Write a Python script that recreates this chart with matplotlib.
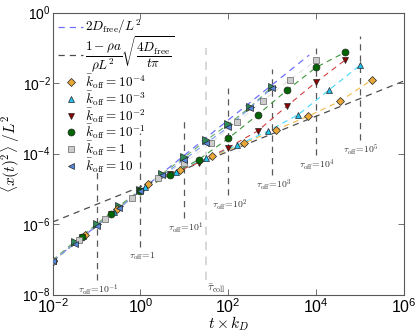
import matplotlib
matplotlib.use('Agg')
import matplotlib.pyplot as plt

plt.rcParams['font.family'] = ['Liberation Sans', 'DejaVu Sans']
plt.rcParams['mathtext.fontset'] = 'cm'

# reference lines (end points)
free_t = [1e-2, 7e3]
free_msd = [9e-8, 6.3e-2]
sqrt_t = [1e-2, 1e6]
sqrt_msd = [1.15e-6, 1.15e-2]

# simulated MSD, one pair of lists per k_off
t_k4 = [0.01, 0.0537, 0.288, 1.51, 8.13, 43.7, 234, 1230, 6610, 35500, 190500]
msd_k4 = [8.9e-8, 4.8e-7, 2.6e-6, 1.35e-5, 3.4e-5, 8.3e-5, 2.0e-4, 4.8e-4, 1.15e-3, 3.1e-3, 1.26e-2]

t_k3 = [0.01, 0.05, 0.25, 1.26, 6.3, 31.6, 158, 794, 3980, 20000, 1e5]
msd_k3 = [8.9e-8, 4.5e-7, 2.2e-6, 1.12e-5, 3.0e-5, 7.4e-5, 1.74e-4, 4.3e-4, 1.29e-3, 6.5e-3, 3.2e-2]

t_k2 = [0.01, 0.0468, 0.214, 1.0, 4.68, 21.4, 100, 468, 2140, 1e4, 46800]
msd_k2 = [8.9e-8, 4.2e-7, 1.9e-6, 8.9e-6, 2.6e-5, 5.6e-5, 1.48e-4, 4.4e-4, 2.2e-3, 1.07e-2, 4.6e-2]

t_k1 = [0.01, 0.0468, 0.214, 1.0, 4.68, 21.4, 100, 468, 2140, 1e4, 46800]
msd_k1 = [8.9e-8, 4.2e-7, 1.9e-6, 8.9e-6, 2.5e-5, 6.8e-5, 2.7e-4, 1.26e-3, 6.2e-3, 2.8e-2, 7.6e-2]

t_k0 = [0.01, 0.0398, 0.158, 0.631, 2.51, 10, 39.8, 158, 631, 2510, 1e4]
msd_k0 = [8.9e-8, 3.5e-7, 1.41e-6, 5.4e-6, 2.0e-5, 5.6e-5, 2.0e-4, 7.9e-4, 3.2e-3, 1.26e-2, 4.4e-2]

t_k10 = [0.01, 0.0316, 0.1, 0.316, 1, 3.16, 10, 31.6, 100, 316, 1000]
msd_k10 = [8.9e-8, 2.8e-7, 8.9e-7, 2.8e-6, 8.5e-6, 2.4e-5, 6.8e-5, 2.0e-4, 5.6e-4, 2.0e-3, 7.4e-3]
msd_free = [9.5e-8, 3.2e-7, 1.0e-6, 3.2e-6, 9.5e-6, 2.7e-5, 7.9e-5, 2.4e-4, 6.8e-4, 2.1e-3, 7.9e-3]

# vertical markers: tau_off = 1/k_off and the mean collision time
tau_off = [1e-1, 1, 1e1, 1e2, 1e3, 1e4, 1e5]
tau_labels = ['10^{-1}', '1', '10^1', '10^2', '10^3', '10^4', '10^5']
tau_top = [3.4e-5, 3.8e-4, 1.07e-3, 7.1e-3, 2.6e-2, 0.1, 0.22]
tau_bottom = [2.6e-8, 2.2e-7, 1.5e-6, 6.6e-6, 2.5e-5, 8.9e-5, 2.4e-4]
tau_coll = 31
tau_coll_span = [2.6e-8, 0.1]

fig = plt.figure(figsize=(4.15, 3.34), dpi=100)
ax = fig.add_axes([0.127, 0.118, 0.846, 0.844])

for x, y0, y1, lab in zip(tau_off, tau_bottom, tau_top, tau_labels):
    ax.plot([x, x], [y0, y1], color='0.35', lw=0.9, ls=(0, (5, 4)), zorder=1)
    ax.annotate(r'$\tau_{\rm off}\!=\!' + lab + '$', (x, y0), xytext=(1, -2),
                textcoords='offset points', ha='center', va='top', fontsize=7, color='0.2')
ax.plot([tau_coll, tau_coll], tau_coll_span, color='0.82', lw=1.2, ls=(0, (5, 4)), zorder=1)
ax.annotate(r'$\bar{\tau}_{\rm coll}$', (tau_coll, tau_coll_span[0]), xytext=(1, -2),
            textcoords='offset points', ha='left', va='top', fontsize=8, color='0.2')

ax.plot(free_t, free_msd, ls=(0, (5, 4)), color='#7070ff', lw=0.9, zorder=2,
        label=r'$2D_{\rm free}/L^2$')
ax.plot(sqrt_t, sqrt_msd, ls=(0, (5, 4)), color='0.3', lw=0.9, zorder=2,
        label=r'$\dfrac{1-\rho a}{\rho L^2}\sqrt{\dfrac{4D_{\rm free}}{t\pi}}$')

series = [
    (t_k4, msd_k4, 'D', '#e8a838', '#f0b848', r'$\bar{k}_{\rm off}=10^{-4}$'),
    (t_k3, msd_k3, '^', '#22c0ee', '#40d8f8', r'$\bar{k}_{\rm off}=10^{-3}$'),
    (t_k2, msd_k2, 'v', '#8b0000', '#d04040', r'$\bar{k}_{\rm off}=10^{-2}$'),
    (t_k1, msd_k1, 'o', '#006400', '#3c963c', r'$\bar{k}_{\rm off}=10^{-1}$'),
    (t_k0, msd_k0, 's', '#cccccc', '#e2e2e2', r'$\bar{k}_{\rm off}=1$'),
    (t_k10, msd_k10, '<', '#5588dd', '#7799ee', r'$\bar{k}_{\rm off}=10$'),
]

ax.plot(t_k10, msd_free, ls=(0, (5, 4)), color='#66aa66', lw=0.8, zorder=2)
ax.plot(t_k10, msd_free, ls='none', marker='>', ms=5.5, mfc='#2e8b57',
        mec='0.15', mew=0.5, zorder=3)
for t, m, mk, fc, lc, lab in series:
    ax.plot(t, m, ls=(0, (5, 4)), color=lc, lw=0.8, zorder=2)
    ax.plot(t, m, ls='none', marker=mk, ms=5 if mk != 'D' else 4.2, mfc=fc,
            mec='0.15' if mk != 's' else '0.4', mew=0.5, zorder=3, label=lab)

ax.set_xscale('log')
ax.set_yscale('log')
ax.set_xlim(1e-2, 1e6)
ax.set_ylim(1e-8, 1)
xt = [1e-2, 1, 1e2, 1e4, 1e6]
yt = [1e-8, 1e-6, 1e-4, 1e-2, 1]
ax.set_xticks(xt)
ax.set_xticklabels([r'$\mathregular{10^{%d}}$' % e for e in [-2, 0, 2, 4, 6]])
ax.set_yticks(yt)
ax.set_yticklabels([r'$\mathregular{10^{%d}}$' % e for e in [-8, -6, -4, -2, 0]])
ax.minorticks_off()
ax.tick_params(direction='in', top=True, right=True, length=4, width=0.6,
               colors='0.35', labelcolor='black')
ax.tick_params(axis='x', labelsize=11.5, pad=2)
ax.tick_params(axis='y', labelsize=10, pad=1.5)
for s in ax.spines.values():
    s.set_color('0.35')
    s.set_linewidth(0.8)

ax.set_xlabel(r'$t\times k_D$', fontsize=11, labelpad=-1)
ax.set_ylabel(r'$\langle x(t)^2\rangle\ /L^2$', fontsize=11)
ax.yaxis.set_label_coords(-0.088, 0.5)

ax.legend(loc='upper left', frameon=False, fontsize=9.5, handlelength=1.9,
          handletextpad=0.15, labelspacing=-0.12, borderaxespad=0.3,
          borderpad=0.1)

fig.savefig('out.png', dpi=100)
